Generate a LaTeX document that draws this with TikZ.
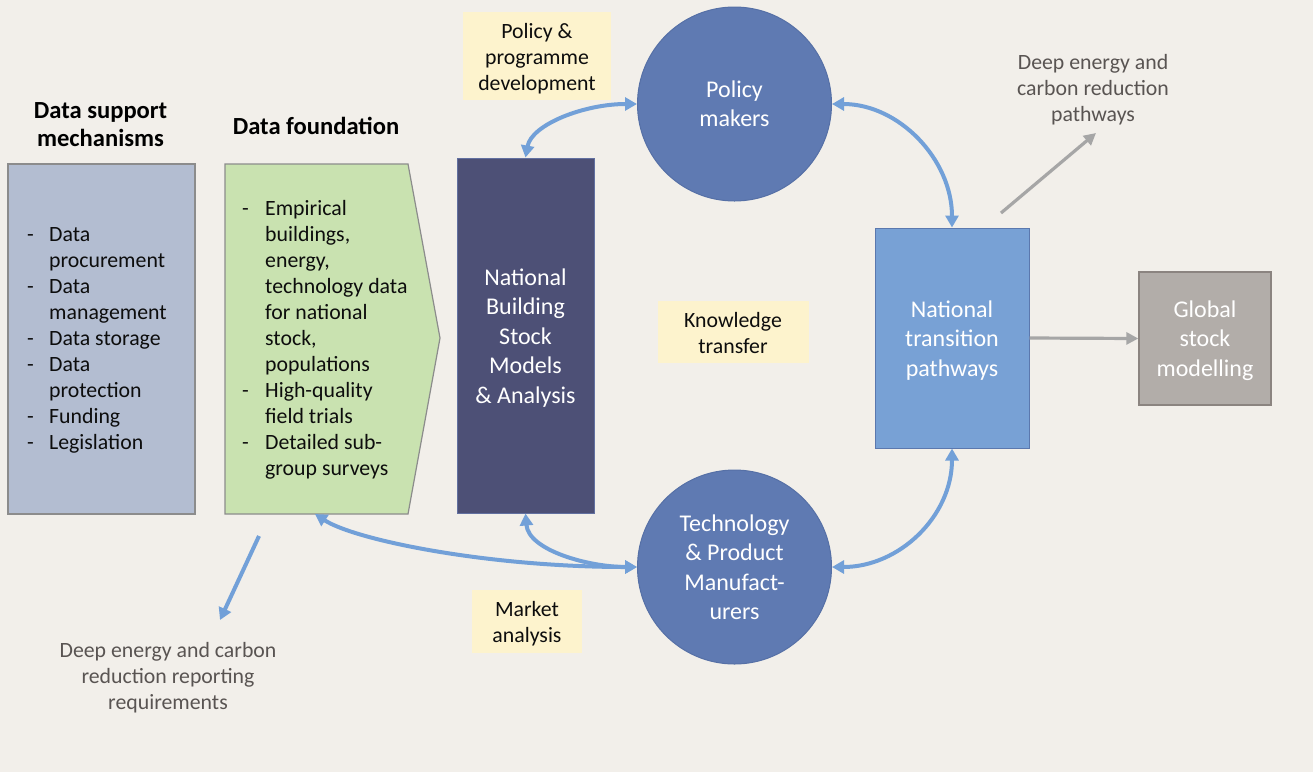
\documentclass[tikz,border=0pt]{standalone}
\usepackage{fontspec}
\setmainfont{Carlito}
\usetikzlibrary{arrows.meta}
\definecolor{bg}{HTML}{F2EFEA}
\definecolor{dsmfill}{HTML}{B3BDD1}
\definecolor{greenfill}{HTML}{C9E2B0}
\definecolor{boxedge}{HTML}{8C8C8C}
\definecolor{darkfill}{HTML}{4D5076}
\definecolor{darkedge}{HTML}{6270A0}
\definecolor{circfill}{HTML}{5F7AB2}
\definecolor{circedge}{HTML}{5670A6}
\definecolor{ntpfill}{HTML}{78A1D5}
\definecolor{ntpedge}{HTML}{5B78AE}
\definecolor{gsmfill}{HTML}{B2ADA9}
\definecolor{gsmedge}{HTML}{8B8480}
\definecolor{yel}{HTML}{FDF3CD}
\definecolor{bluearr}{HTML}{72A0D8}
\definecolor{grayarr}{HTML}{A6A6A6}
\definecolor{graytext}{HTML}{595452}
\definecolor{bodytext}{HTML}{0D0D0D}
\newcommand\fsSmall{\fontsize{21.8}{26}\selectfont}
\newcommand\fsBig{\fontsize{24}{29.5}\selectfont}
\newcommand\fsTitle{\fontsize{24.6}{27.5}\selectfont\bfseries}
\tikzset{
  rectbox/.style={draw, line width=1.2pt, inner sep=0pt},
  circbox/.style={circle, fill=circfill, draw=circedge, line width=1pt, minimum size=194pt, inner sep=0pt, text=white, font=\fsBig, align=center},
  bigwhite/.style={inner sep=0pt, text=white, font=\fsBig, align=center},
  ylab/.style={fill=yel, inner sep=0pt},
  ytext/.style={inner sep=0pt, align=center, font=\fsSmall, text=bodytext},
  bodylist/.style={inner sep=0pt, anchor=west, font=\fsSmall, text=bodytext},
  titletext/.style={inner sep=0pt, align=center, font=\fsTitle, text=black},
  graynote/.style={inner sep=0pt, align=center, font=\fsSmall, text=graytext},
  bluelink/.style={draw=bluearr, line width=4pt, {Triangle[length=12pt,width=13pt]}-{Triangle[length=12pt,width=13pt]}},
  bluesingle/.style={draw=bluearr, line width=4pt, -{Triangle[length=12pt,width=13pt]}},
  graylink/.style={draw=grayarr, line width=3.2pt, -{Triangle[length=12pt,width=12pt]}}
}
\begin{document}
\begin{tikzpicture}[x=1pt,y=-1pt]
\fill[bg] (0,0) rectangle (1313,772);
\useasboundingbox (0,0) rectangle (1313,772);

% titles
\node[titletext] (t1) at (100.5,124.5) {Data support\\mechanisms};
\node[titletext] (t2) at (316,125.5) {Data foundation};

% data support mechanisms box
\node[rectbox, draw=boxedge, fill=dsmfill, minimum width=187pt, minimum height=350pt] (dsm) at (101.5,339) {};
\node[bodylist] (dsmt) at (27,340) {\begin{tabular}{@{}p{22pt}@{}l@{}}
-&Data\\
 &procurement\\
-&Data\\
 &management\\
-&Data storage\\
-&Data\\
 &protection\\
-&Funding\\
-&Legislation
\end{tabular}};

% data foundation pentagon
\draw[line width=1.2pt, draw=boxedge, fill=greenfill] (225,164) -- (408,164) -- (440,338) -- (408,514) -- (225,514) -- cycle;
\coordinate (dfbottom) at (315,514);
\node[bodylist] (dft) at (242,340.5) {\begin{tabular}{@{}p{23pt}@{}l@{}}
-&Empirical\\
 &buildings,\\
 &energy,\\
 &technology data\\
 &for national\\
 &stock,\\
 &populations\\
-&High-quality\\
 &field trials\\
-&Detailed sub-\\
 &group surveys
\end{tabular}};

% national building stock models
\node[rectbox, draw=darkedge, line width=1pt, fill=darkfill, minimum width=137pt, minimum height=355pt] (dk) at (525.5,335.5) {};
\node[bigwhite] (dkt) at (525.5,338) {National\\Building\\Stock\\Models\\\& Analysis};

% circles
\node[circbox] (pm) at (734.5,104) {Policy\\makers};
\node[circbox] (tm) at (734.5,567) {Technology\\\& Product\\Manufact-\\urers};

% national transition pathways
\node[rectbox, draw=ntpedge, line width=1pt, fill=ntpfill, minimum width=154pt, minimum height=220pt] (ntp) at (952,338) {};
\node[bigwhite] (ntpt) at (952,340.5) {National\\transition\\pathways};

% global stock modelling
\node[rectbox, draw=gsmedge, line width=1.4pt, fill=gsmfill, minimum width=132pt, minimum height=133pt] (gsm) at (1205,338.5) {};
\node[bigwhite] (gsmt) at (1205,340.5) {Global\\stock\\modelling};

% yellow labels
\node[ylab, minimum width=148pt, minimum height=88pt] (ypp) at (537,56) {};
\node[ytext] (yppt) at (537,59) {Policy \&\\programme\\development};
\node[ylab, minimum width=151pt, minimum height=62pt] (ykt) at (733,332) {};
\node[ytext] (yktt) at (733,333) {Knowledge\\transfer};
\node[ylab, minimum width=110pt, minimum height=63pt] (yma) at (527,621.5) {};
\node[ytext] (ymat) at (527,623.5) {Market\\analysis};

% gray notes
\node[graynote] (gn1) at (1093,90) {Deep energy and\\carbon reduction\\pathways};
\node[graynote] (gn2) at (168,678) {Deep energy and carbon\\reduction reporting\\requirements};

% connectors
\draw[bluelink] (dk.north) .. controls +(6,-33) and +(-53,0) .. (pm.west);
\draw[bluelink] (pm.east) .. controls +(67,0) and +(0,-68) .. (ntp.north);
\draw[bluelink] (tm.east) .. controls +(67,0) and +(0,68) .. (ntp.south);
\draw[bluelink] (dk.south) .. controls +(3,37) and +(-48,0) .. (tm.west);
\draw[bluelink] (dfbottom) .. controls +(40,26) and +(-150,0) .. (tm.west);

\coordinate (bl1) at (259,536);
\coordinate (bl2) at (220,620);
\draw[bluesingle] (bl1) -- (bl2);

\draw[graylink] (ntp.east) -- (gsm.west);
\coordinate (ga1) at (1001,213);
\coordinate (ga2) at (1096,133);
\draw[graylink] (ga1) -- (ga2);
\end{tikzpicture}
\end{document}
